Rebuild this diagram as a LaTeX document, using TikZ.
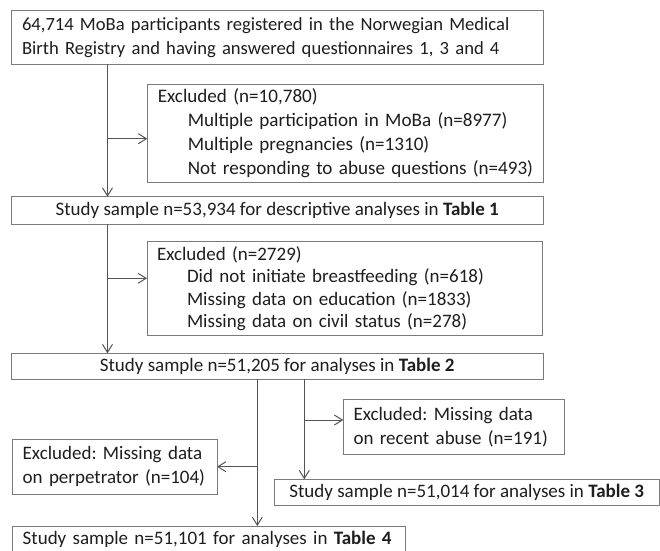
\documentclass[tikz,border=0pt]{standalone}
\usepackage{fontspec}
\setmainfont{Carlito}
\frenchspacing
\usetikzlibrary{arrows.meta}
\definecolor{boxline}{HTML}{7A7A7A}
\definecolor{conn}{HTML}{555555}
\definecolor{ink}{HTML}{1E1E1E}
\newcommand{\ind}{\hspace*{30pt}}
\newcommand{\oneline}[1]{\mbox{#1}}
\begin{document}
\begin{tikzpicture}[x=1pt,y=-1pt,
  box/.style={draw=boxline, line width=1pt, anchor=north west, text=ink,
    font=\fontsize{19}{24}\selectfont, inner ysep=0pt, outer sep=0pt},
  leftbox/.style={box, align=left},
  midbox/.style={box, align=center},
  arr/.style={draw=conn, line width=1pt, -{Straight Barb[length=8pt,width=10pt,line width=1pt]}}]
\useasboundingbox[fill=white] (0,0) rectangle (660,550);

% main flow boxes
\node[leftbox, inner xsep=11pt, text width=510.3pt, minimum height=53.3pt,
  font=\fontsize{18.6}{24}\selectfont] (b1) at (11,10.7)
  {\oneline{64,714 MoBa participants registered in the Norwegian Medical}\\
   \oneline{Birth Registry and having answered questionnaires 1, 3 and 4}};
\node[midbox, minimum width=532.3pt, minimum height=27.6pt] (b2) at (11,196.7)
  {Study sample n=53,934 for descriptive analyses in \textbf{Table 1}};
\node[midbox, minimum width=532.3pt, minimum height=26pt] (b3) at (11,353.3)
  {Study sample n=51,205 for analyses in \textbf{Table 2}};
\node[midbox, minimum width=384.7pt, minimum height=26.4pt] (b4) at (274.3,479.3)
  {Study sample n=51,014 for analyses in \textbf{Table 3}};
\node[leftbox, inner xsep=10.7pt, text width=372.3pt, minimum height=26.4pt] (b5) at (12,526)
  {\oneline{Study sample n=51,101 for analyses in \textbf{Table 4}}};

% exclusion boxes
\node[leftbox, inner xsep=10.5pt, text width=375pt, minimum height=98.7pt,
  font=\fontsize{19.1}{24}\selectfont] (ex1) at (147.3,84)
  {\oneline{Excluded (n=10,780)}\\
   \oneline{\ind Multiple participation in MoBa (n=8977)}\\
   \oneline{\ind Multiple pregnancies (n=1310)}\\
   \oneline{\ind Not responding to abuse questions (n=493)}};
\node[leftbox, inner xsep=10pt, text width=375.5pt, minimum height=94pt,
  font=\fontsize{19}{22.5}\selectfont] (ex2) at (147,241.7)
  {\oneline{Excluded (n=2729)}\\
   \oneline{\ind Did not initiate breastfeeding (n=618)}\\
   \oneline{\ind Missing data on education (n=1833)}\\
   \oneline{\ind Missing data on civil status (n=278)}};
\node[leftbox, inner xsep=10.2pt, text width=200.3pt, minimum height=55pt] (ex3) at (343.3,399.3)
  {\oneline{Excluded: Missing data}\\\oneline{on recent abuse (n=191)}};
\node[leftbox, inner xsep=10.4pt, text width=183.9pt, minimum height=54.7pt] (ex4) at (12.3,439.3)
  {\oneline{Excluded: Missing data}\\\oneline{on perpetrator (n=104)}};

% trunk positions and branch points
\coordinate (vx) at (107.5,0);
\coordinate (j1) at (107.5,138.7);
\coordinate (j2) at (107.5,278.3);
\coordinate (vl) at (257.3,0);
\coordinate (vr) at (304.3,0);
\coordinate (j3) at (304.3,420);
\coordinate (j4) at (257.3,466.7);

% connectors
\draw[arr] (b1.south -| vx) -- (b2.north -| vx);
\draw[arr] (j1) -- (ex1.west |- j1);
\draw[arr] (b2.south -| vx) -- (b3.north -| vx);
\draw[arr] (j2) -- (ex2.west |- j2);
\draw[arr] (b3.south -| vl) -- (b5.north -| vl);
\draw[arr] (j4) -- (ex4.east |- j4);
\draw[arr] (b3.south -| vr) -- (b4.north -| vr);
\draw[arr] (j3) -- (ex3.west |- j3);
\end{tikzpicture}
\end{document}
